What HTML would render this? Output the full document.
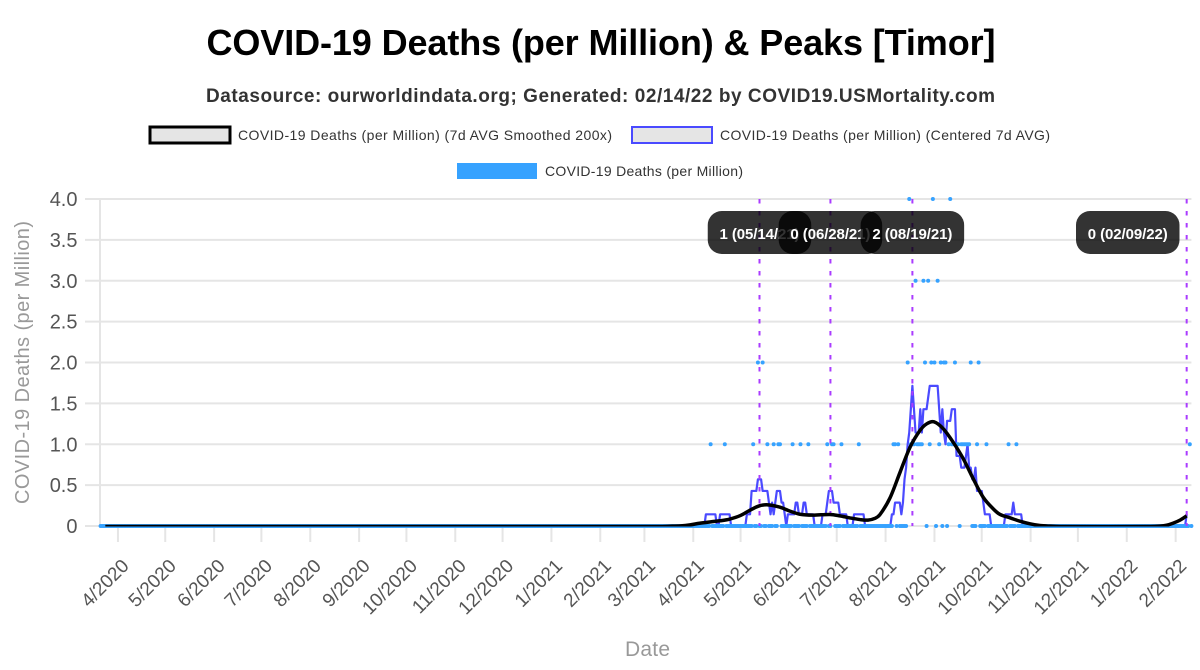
<!DOCTYPE html>
<html lang="en">
<head>
<meta charset="utf-8">
<title>COVID-19 Deaths (per Million) &amp; Peaks [Timor]</title>
<style>
html,body{margin:0;padding:0;background:#fff;width:1200px;height:670px;overflow:hidden}
svg{display:block;font-family:"Liberation Sans",Arial,sans-serif}
</style>
</head>
<body>
<svg id="chart" width="1200" height="670" viewBox="0 0 1200 670" xmlns="http://www.w3.org/2000/svg">
  <defs>
    <clipPath id="smooth-clip"><rect x="95" y="190" width="1100" height="336.5"/></clipPath>
  </defs>
  <rect x="0" y="0" width="1200" height="670" fill="#ffffff"/>
  <text x="601" y="55" text-anchor="middle" font-size="36" font-weight="700" fill="#000" textLength="789" lengthAdjust="spacing">COVID-19 Deaths (per Million) &amp; Peaks [Timor]</text>
  <text x="600.5" y="102" text-anchor="middle" font-size="19" font-weight="700" fill="#333" textLength="789" lengthAdjust="spacing">Datasource: ourworldindata.org; Generated: 02/14/22 by COVID19.USMortality.com</text>

  <g>
    <rect x="150" y="127" width="80" height="16" fill="#e5e5e5" stroke="#000" stroke-width="3"/>
    <text x="238" y="140" font-size="14" fill="#333" textLength="374" lengthAdjust="spacing">COVID-19 Deaths (per Million) (7d AVG Smoothed 200x)</text>
  </g>
  <g>
    <rect x="632" y="127" width="80" height="16" fill="#e5e5e5" stroke="#4a4aff" stroke-width="2"/>
    <text x="720" y="140" font-size="14" fill="#333" textLength="330" lengthAdjust="spacing">COVID-19 Deaths (per Million) (Centered 7d AVG)</text>
  </g>
  <g>
    <rect x="457" y="163" width="80" height="16" fill="#36a2ff"/>
    <text x="545" y="176" font-size="14" fill="#333" textLength="198" lengthAdjust="spacing">COVID-19 Deaths (per Million)</text>
  </g>

  <g id="grid"></g>
  <g id="xticks"></g>
  <g id="yticks"></g>
  <g id="marks"></g>
  <g id="labels"></g>

  <text transform="translate(29,362.5) rotate(-90)" text-anchor="middle" font-size="20" fill="#999" textLength="283" lengthAdjust="spacing">COVID-19 Deaths (per Million)</text>
  <text x="647.5" y="656" text-anchor="middle" font-size="21" fill="#999" textLength="45" lengthAdjust="spacing">Date</text>
</svg>

<script>
// ---- data (days are counted from the first data date, 2020-03-22) ----
const firstDataDate = [2020, 3, 22];
const lastDataDay = 692;

const xTickLabels = ["4/2020","5/2020","6/2020","7/2020","8/2020","9/2020","10/2020","11/2020","12/2020","1/2021","2/2021","3/2021","4/2021","5/2021","6/2021","7/2021","8/2021","9/2021","10/2021","11/2021","12/2021","1/2022","2/2022"];
const yTickValues = [0, 0.5, 1, 1.5, 2, 2.5, 3, 3.5, 4];
const yTickLabels = ["0","0.5","1.0","1.5","2.0","2.5","3.0","3.5","4.0"];

// Daily deaths: days with a non-zero value; every other day is zero.
const deathDays = [
  387,396,414,423,427,430,431,439,444,449,
  461,464,465,470,481,
  417,420,
  503,504,506,514,515,516,518,519,520,521,
  526,532,538,540,541,543,544,546,547,548,
  549,550,551,556,562,576,581,691,
  512,523,527,529,533,535,536,542,552,557,
  517,522,525,531,
  513,528,539];
const deathValues = [
  1,1,1,1,1,1,1,1,1,1,
  1,1,1,1,1,
  2,2,
  1,1,1,1,1,1,1,1,1,1,
  1,1,1,1,1,1,1,1,1,1,
  1,1,1,1,1,1,1,1,
  2,2,2,2,2,2,2,2,2,2,
  3,3,3,3,
  4,4,4];

// Centered 7-day average, in sevenths of a death per million, from avgFirstDay.
const avgFirstDay = 380;
const avgSevenths = [
  0,0,0,0,1,1,1,1,1,1,
  1,0,0,1,1,1,1,1,1,1,
  0,0,0,0,0,0,0,0,0,0,
  1,1,1,3,3,3,3,4,4,4,
  3,3,3,3,2,1,2,1,2,3,
  3,3,2,2,1,0,1,1,1,1,
  1,2,2,1,1,1,2,2,1,1,
  1,1,1,0,0,0,0,0,1,1,
  1,2,3,3,3,2,2,2,2,1,
  1,1,1,1,0,0,0,0,1,1,
  1,1,1,1,1,0,0,0,0,0,
  0,0,0,0,0,0,0,0,0,0,
  0,0,1,1,2,2,2,2,1,2,
  4,5,7,8,10,12,10,8,8,8,
  10,8,10,10,10,11,12,12,12,12,
  12,12,10,8,10,8,7,9,9,9,
  10,10,10,6,6,6,5,5,5,6,
  7,5,5,4,4,5,3,3,3,3,
  2,1,1,1,1,0,0,0,0,0,
  0,0,0,0,1,1,1,1,1,2,
  1,1,1,1,1,0,0,0,0,0
];
const avgStartDay = 3;
const avgEndDay = 689;
const avgEndSevenths = 1;

// Smoothed series, read at these days.
const smoothDays = [3,300,349,355,361,368,374,380,387,393,399,406,412,418,423.4,431,437.3,443.7,451.9,462.7,469,475.4,481.7,486.8,491.3,494.4,500.8,507.1,513.5,519.8,524.1,528.7,534.6,540.9,547.3,553.6,559.9,566.3,570.6,576.9,583.2,589.6,595.9,602.3,608.6,666,672,676.3,680.3,684.8,689];
const smoothValues = [0,0,0,0,0.003,0.008,0.02,0.04,0.057,0.07,0.09,0.135,0.2,0.253,0.265,0.236,0.188,0.15,0.139,0.147,0.13,0.105,0.085,0.078,0.1,0.145,0.35,0.66,0.97,1.174,1.256,1.28,1.195,1.03,0.828,0.583,0.358,0.216,0.147,0.106,0.065,0.033,0.012,0.004,0,0,0.005,0.016,0.04,0.078,0.13];

// Detected peaks.
const peakDates = ["05/14/21","06/28/21","08/19/21","02/09/22"];
const peakValues = [1,0,2,0];

// ---- scales ----
const NS = "http://www.w3.org/2000/svg";
const X0 = 100.6, PX_PER_DAY = 1.5763, Y0 = 526, PX_PER_UNIT = 81.75;
const epoch = Date.UTC(firstDataDate[0], firstDataDate[1] - 1, firstDataDate[2]);
function xScale(day) { return X0 + PX_PER_DAY * day; }
function yScale(v) { return Y0 - PX_PER_UNIT * v; }
function dayOf(year, month, date) { return Math.round((Date.UTC(year, month - 1, date) - epoch) / 864e5); }
function el(tag, attrs, parent, text) {
  const n = document.createElementNS(NS, tag);
  for (const k in attrs) n.setAttribute(k, attrs[k]);
  if (text !== undefined) n.textContent = text;
  parent.appendChild(n);
  return n;
}
const gridG = document.getElementById("grid");
const xG = document.getElementById("xticks");
const yG = document.getElementById("yticks");
const marks = document.getElementById("marks");
const labelsG = document.getElementById("labels");
const xRight = xScale(lastDataDay);

// ---- horizontal grid & y ticks ----
yTickValues.forEach(function (v, i) {
  const line = el("line", {x1: 85, x2: xRight, y1: yScale(v), y2: yScale(v), stroke: "#e5e5e5", "stroke-width": 2}, gridG);
  
  
  const t = el("text", {x: 77.5, y: yScale(v) + 7, "text-anchor": "end", "font-size": 20, fill: "#555"}, yG, yTickLabels[i]);
  
  
});
const yAxisLine = el("line", {x1: 100, x2: 100, y1: yScale(4) - 1, y2: Y0 + 1, stroke: "#e5e5e5", "stroke-width": 2}, gridG);



// ---- x ticks ----
xTickLabels.forEach(function (label) {
  const parts = label.split("/");
  const x = xScale(dayOf(+parts[1], +parts[0], 2));
  const tick = el("line", {x1: x, x2: x, y1: Y0, y2: Y0 + 16, stroke: "#e5e5e5", "stroke-width": 2}, xG);
  
  
  const t = el("text", {transform: "translate(" + (x + 12) + ",567) rotate(-45)", "text-anchor": "end", "font-size": 19, fill: "#555"}, xG, label);
  
  
});

function peakDay(s) {
  const p = s.split("/");
  return dayOf(2000 + (+p[2]), +p[0], +p[1]);
}

// ---- centered 7d average ----
function avgAt(d) {
  if (d === avgEndDay) return avgEndSevenths / 7;
  const i = d - avgFirstDay;
  if (i >= 0 && i < avgSevenths.length) return avgSevenths[i] / 7;
  return 0;
}
const avgPts = [];
for (let d = avgStartDay; d <= avgEndDay; d++) avgPts.push(xScale(d).toFixed(2) + "," + yScale(avgAt(d)).toFixed(2));
const avgLine = el("polyline", {points: avgPts.join(" "), fill: "none", stroke: "#4a4aff", "stroke-width": 2.2, "stroke-linejoin": "round"}, marks);



// ---- daily dots ----
const dailyByDay = {};
deathDays.forEach(function (d, i) { dailyByDay[d] = deathValues[i]; });
for (let d = 0; d <= lastDataDay; d++) {
  const c = el("circle", {cx: xScale(d), cy: yScale(dailyByDay[d] || 0), r: 2, fill: "#36a2ff"}, marks);
  
  
}

// ---- peak lines ----
peakDates.forEach(function (s) {
  const x = xScale(peakDay(s));
  const l = el("line", {x1: x, x2: x, y1: yScale(4), y2: Y0, stroke: "#aa3cff", "stroke-width": 2, "stroke-dasharray": "4.5 7.5"}, marks);
  
  
});

// ---- smoothed curve ----
function smoothPath(days, vals) {
  const n = days.length, px = days.map(xScale), py = vals.map(yScale), m = [];
  for (let i = 0; i < n; i++) {
    const a = Math.max(i - 1, 0), b = Math.min(i + 1, n - 1);
    m.push((py[b] - py[a]) / (px[b] - px[a]));
  }
  let s = "M" + px[0].toFixed(2) + " " + py[0].toFixed(2);
  for (let i = 1; i < n; i++) {
    const h = (px[i] - px[i - 1]) / 3;
    s += "C" + (px[i - 1] + h).toFixed(2) + " " + (py[i - 1] + m[i - 1] * h).toFixed(2) + " " +
      (px[i] - h).toFixed(2) + " " + (py[i] - m[i] * h).toFixed(2) + " " + px[i].toFixed(2) + " " + py[i].toFixed(2);
  }
  return s;
}
const smoothClip = el("g", {"clip-path": "url(#smooth-clip)"}, marks);


const smoothLine = el("path", {d: smoothPath(smoothDays, smoothValues), transform: "translate(0,0.5)", fill: "none", stroke: "#000", "stroke-width": 3.5, "stroke-linejoin": "round"}, smoothClip);



// ---- peak labels ----
const BOX_W = 103.5, BOX_H = 43, BOX_TOP = 211, BOX_MAX_RIGHT = 1179.5;
peakDates.forEach(function (s, i) {
  const cx = Math.min(xScale(peakDay(s)), BOX_MAX_RIGHT - BOX_W / 2);
  const box = el("rect", {x: cx - BOX_W / 2, y: BOX_TOP, width: BOX_W, height: BOX_H, rx: 14, ry: 14, fill: "rgba(0,0,0,0.8)"}, labelsG);
  
  
  const t = el("text", {x: cx, y: BOX_TOP + 28, "text-anchor": "middle", "font-size": 15, "font-weight": 700, fill: "#fff", textLength: 80, lengthAdjust: "spacing"}, labelsG, peakValues[i] + " (" + s + ")");
  
  
});
</script>
</body>
</html>
